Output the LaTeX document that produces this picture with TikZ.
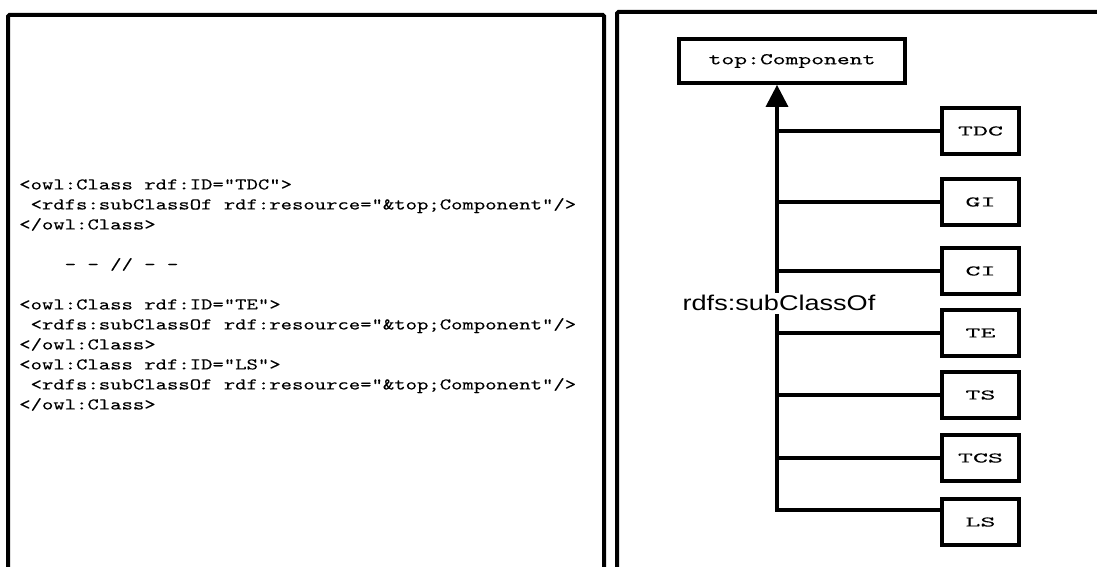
\documentclass[tikz,border=0pt]{standalone}
\usepackage{fontspec}
\newfontfamily\codefont{lmmono10-regular.otf}[FakeStretch=1.32, FakeBold=0.2]
\newfontfamily\topfont{lmmono10-regular.otf}[FakeStretch=1.49, FakeBold=0.2]
\newfontfamily\clsfont{lmmono10-regular.otf}[FakeStretch=1.95, FakeBold=0.2]
\newfontfamily\lblfont[FakeStretch=1.27]{Liberation Sans}
\usetikzlibrary{arrows.meta,positioning}
\newcommand\chsp{\phantom{x}}
\newcommand\monospaces{\spaceskip=\fontcharwd\font`x\relax}

\begin{document}
\begin{tikzpicture}[
    x=0.75pt, y=-0.75pt,
    panel/.style={draw, line width=3pt, rounded corners=1pt},
    topbox/.style={rectangle, draw, line width=2.8pt, minimum width=170pt, minimum height=33pt, font=\topfont\fontsize{12.3}{15}\selectfont},
    cls/.style={rectangle, draw, line width=2.8pt, minimum width=58pt, minimum height=34.5pt, inner sep=0pt, font=\clsfont\fontsize{11}{14}\selectfont},
    link/.style={line width=2.5pt},
    arrow/.style={-{Triangle[length=16.5pt, width=16.5pt]}, line width=2.5pt}
]
\useasboundingbox (0,0) rectangle (1097,567);
\clip (0,0) rectangle (1097,567);
% panels
\draw[panel] (8,600) |- (604,15) -- (604,600);
\draw[panel] (617,600) |- (1120,12);
% owl code
\node[anchor=north west, inner sep=0pt, align=left, font=\codefont\fontsize{12.3}{15}\selectfont\monospaces] (owl) at (19,179) {%
<owl:Class rdf:ID="TDC">\\
\chsp<rdfs:subClassOf rdf:resource="\&top;Component"/>\\
</owl:Class>\\
\mbox{}\\
\chsp\chsp\chsp\chsp- - // - -\\
\mbox{}\\
<owl:Class rdf:ID="TE">\\
\chsp<rdfs:subClassOf rdf:resource="\&top;Component"/>\\
</owl:Class>\\
<owl:Class rdf:ID="LS">\\
\chsp<rdfs:subClassOf rdf:resource="\&top;Component"/>\\
</owl:Class>};
% hierarchy
\node[topbox] (top) at (792,61) {top:Component};
\foreach \c/\yy in {TDC/131, GI/202, CI/271, TE/333, TS/395, TCS/458, LS/522} {\node[cls] (\c) at (980.5,\yy) {\c};}
\coordinate (trunk) at (777,510);
\foreach \c in {TDC,GI,CI,TE,TS,TCS} {\draw[link] (\c.west) -- (\c.west -| trunk);}
\draw[arrow] (trunk -| LS.west) -- (trunk) -- (trunk |- top.south);
\node[fill=white, inner xsep=1pt, inner ysep=2pt, font=\lblfont\fontsize{16}{18}\selectfont] (sub) at (779,303) {rdfs:subClassOf};
\end{tikzpicture}
\end{document}
